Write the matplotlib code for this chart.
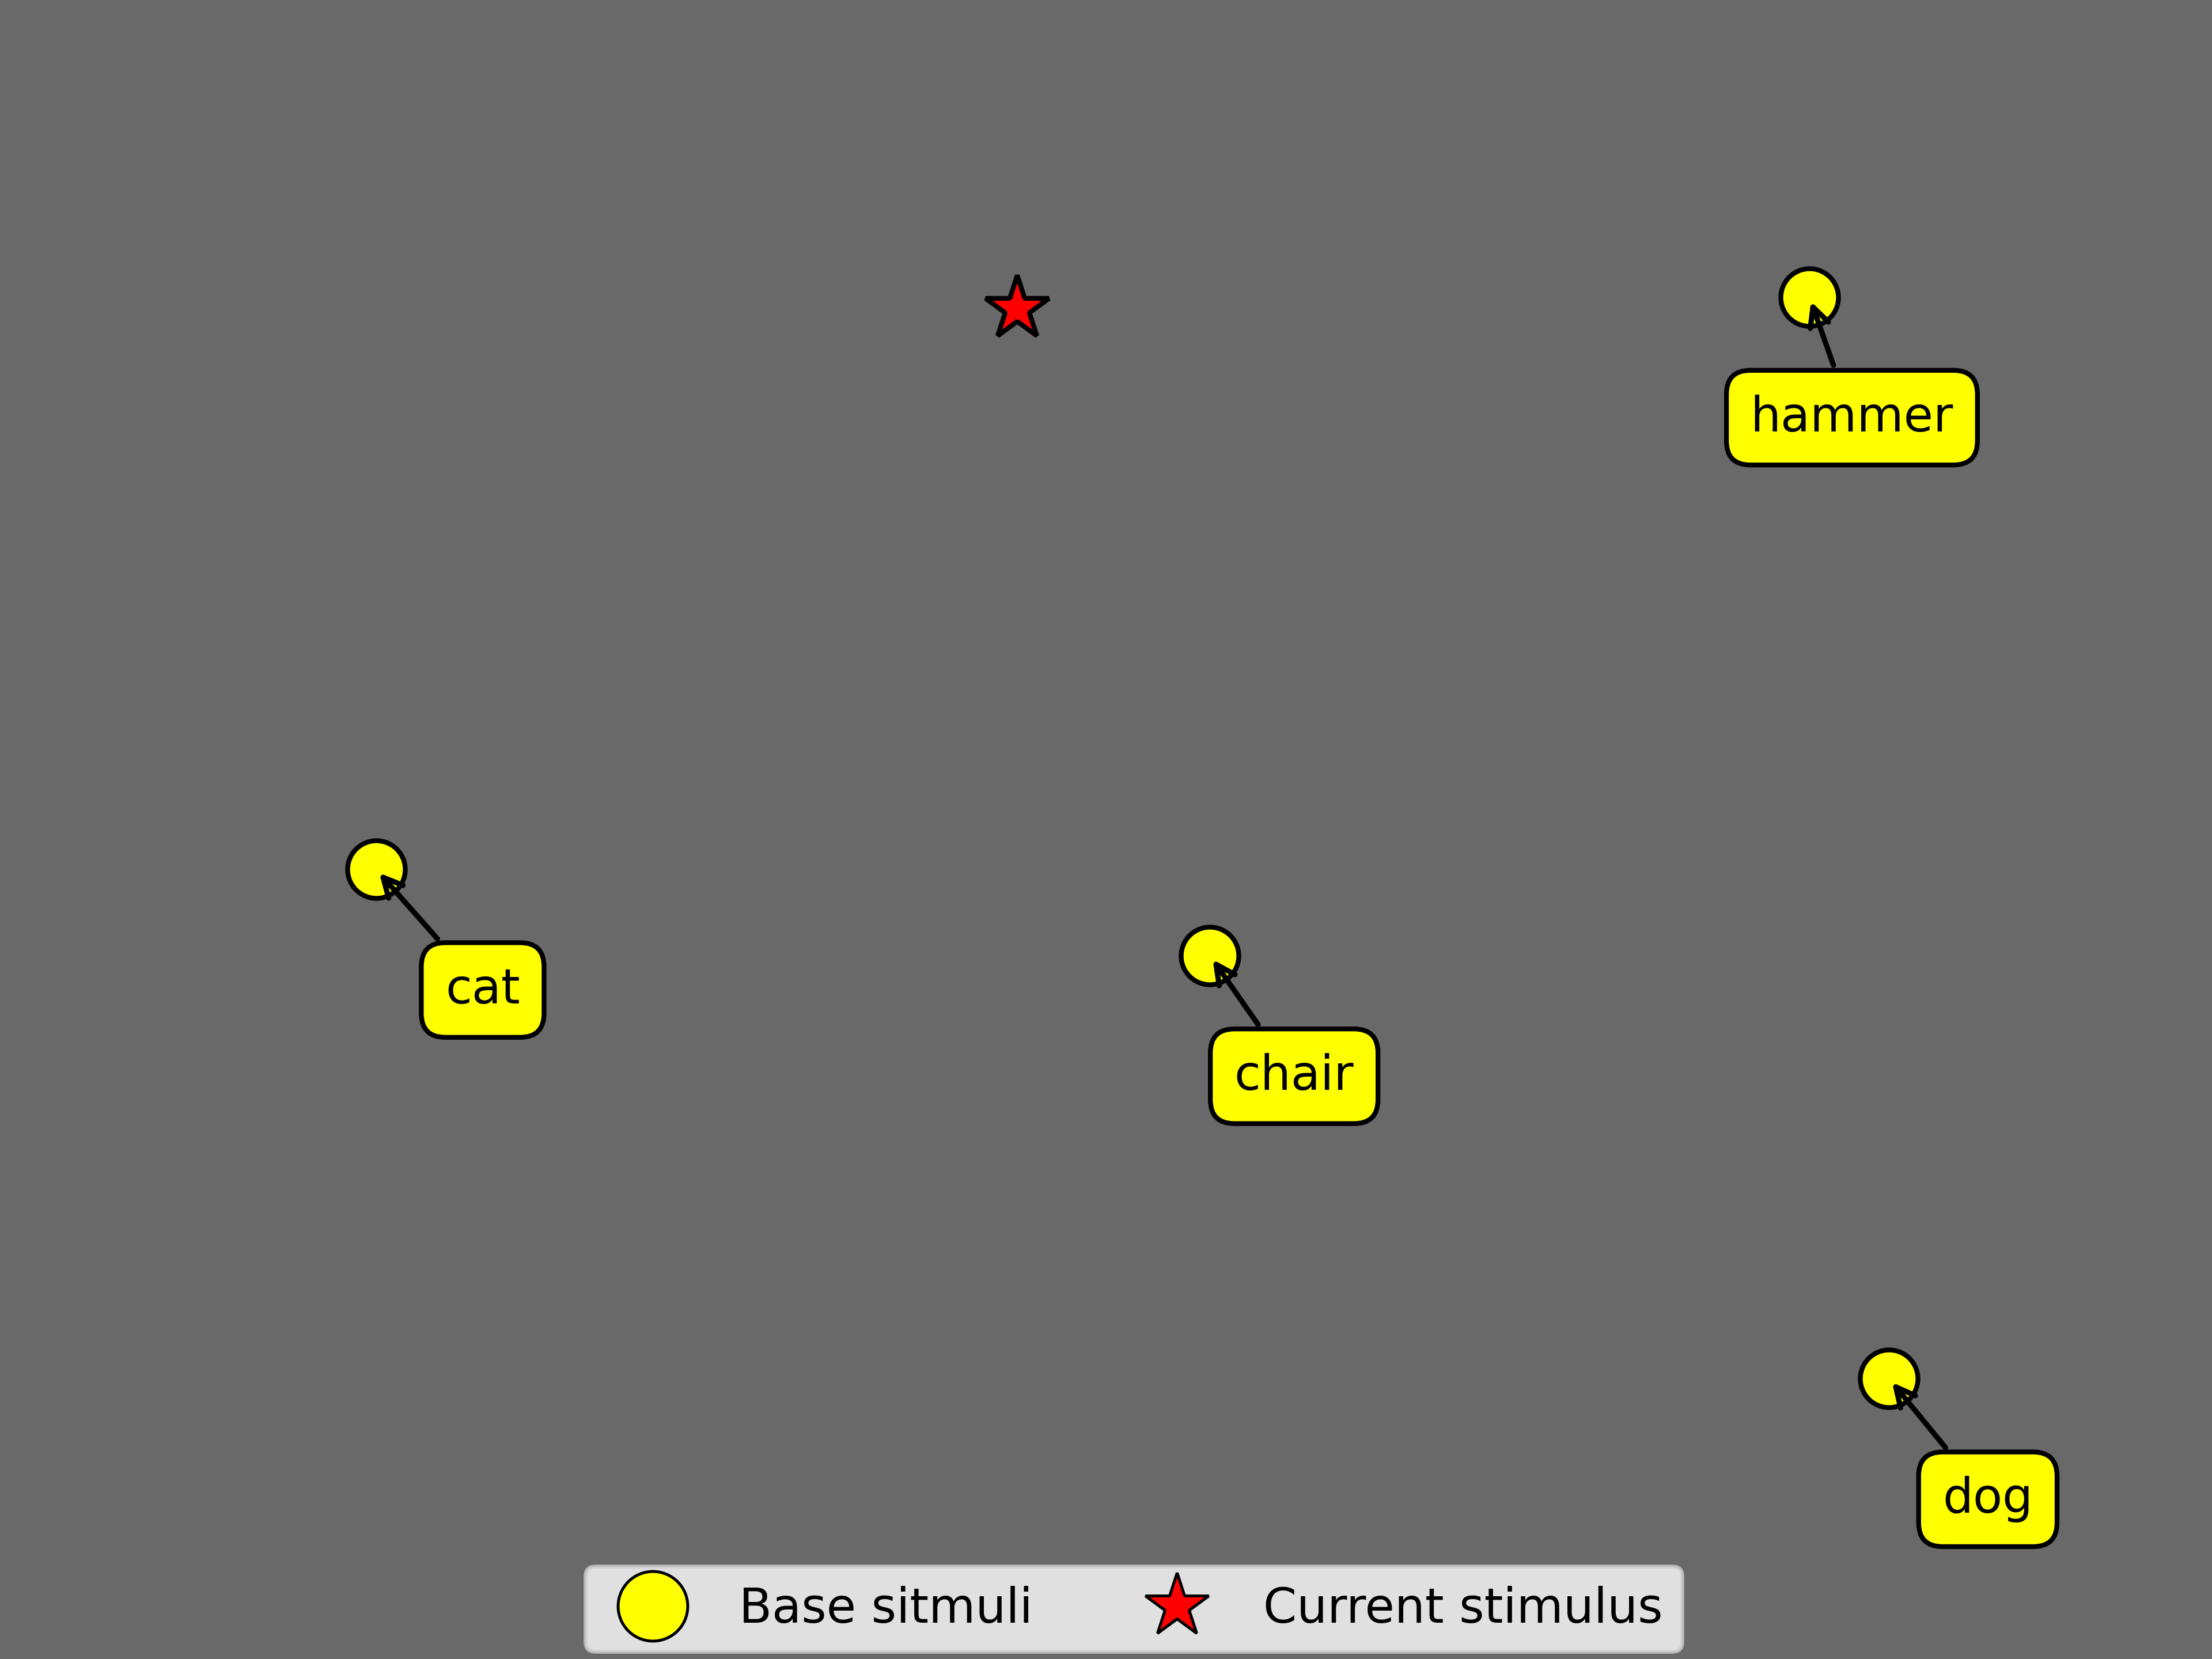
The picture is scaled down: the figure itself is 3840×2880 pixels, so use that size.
'''Base stimuli in 2D space with the current stimulus marked.'''

import matplotlib.pyplot as plt
from matplotlib.lines import Line2D

labels = ['hammer', 'cat', 'chair', 'dog']
base_x = [0.818, 0.170, 0.547, 0.854]
base_y = [0.821, 0.476, 0.424, 0.169]
current_x = [0.460]
current_y = [0.814]

fig = plt.figure(figsize=(12.8, 9.6), dpi=300, facecolor='dimgray')
ax = fig.add_axes([0, 0, 1, 1])
ax.set_facecolor('dimgray')
ax.set_xlim(0, 1)
ax.set_ylim(0, 1)
ax.axis('off')

ax.plot(base_x, base_y, 'o', ms=24, mfc='yellow', mec='black', mew=2, ls='none')
ax.plot(current_x, current_y, '*', ms=28, mfc='red', mec='black', mew=2, ls='none')

for label, x, y in zip(labels, base_x, base_y):
    ax.annotate(label, xy=(x, y), xytext=(60, -60), textcoords='offset points',
                ha='right', va='bottom', fontsize=20,
                bbox=dict(boxstyle='round,pad=0.5', fc='yellow', ec='black', lw=2),
                arrowprops=dict(arrowstyle='->', color='black', lw=2.2,
                                connectionstyle='arc3,rad=0'))

handles = [
    Line2D([], [], marker='o', ms=29, mfc='yellow', mec='black', mew=1.2, ls='none'),
    Line2D([], [], marker='*', ms=28, mfc='red', mec='black', mew=1.2, ls='none'),
]
leg = fig.legend(handles, ['Base sitmuli', 'Current stimulus'], ncol=2, fontsize=20,
                 loc='lower center', bbox_to_anchor=(0.5125, 0.0045), borderaxespad=0)
leg.get_frame().set_linewidth(1.6)

fig.savefig('out.png', dpi=300, facecolor=fig.get_facecolor())
